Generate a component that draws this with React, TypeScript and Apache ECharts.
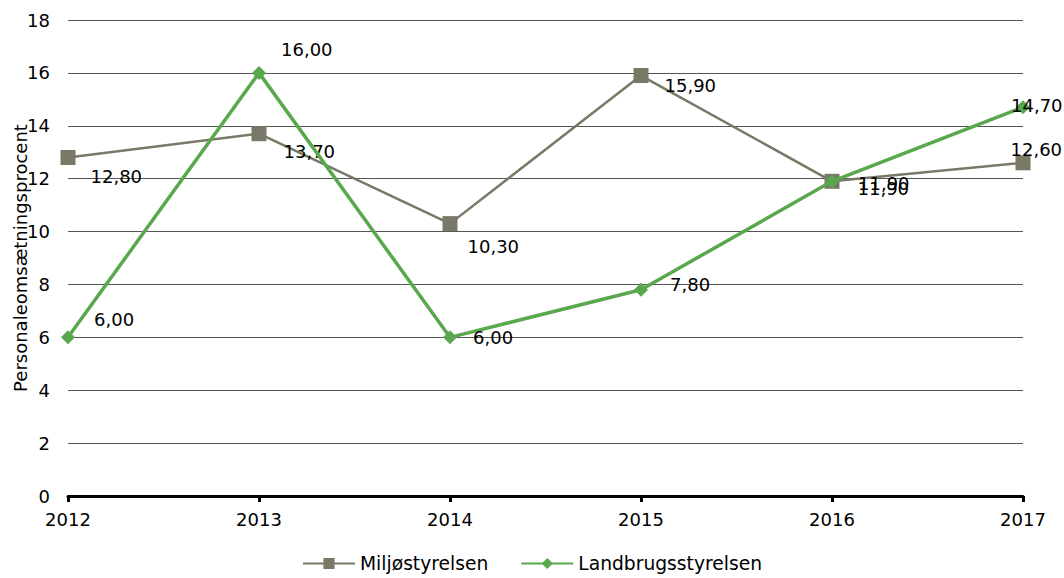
import React, { useEffect, useRef } from "react";
import * as echarts from "echarts";

const years = ["2012", "2013", "2014", "2015", "2016", "2017"];
const miljoValues = [12.8, 13.7, 10.3, 15.9, 11.9, 12.6];
const landbrugValues = [6.0, 16.0, 6.0, 7.8, 11.9, 14.7];
const yTicks = [0, 2, 4, 6, 8, 10, 12, 14, 16, 18];

const miljoLabelOffsets = [
  [10, 19],
  [12, 18],
  [5, 23],
  [11, 10],
  [13, 7],
  [-25, -13],
];
const landbrugLabelOffsets = [
  [14, -18],
  [10, -23],
  [11, 0],
  [17, -5],
  [14, 2],
  [-24, -2],
];

const FONT = "Verdana, 'DejaVu Sans', sans-serif";
const FS = 18;
const fmt = (v: number) => v.toFixed(2).replace(".", ",");

export default function App() {
  const ref = useRef<HTMLDivElement>(null);
  useEffect(() => {
    document.body.style.margin = "0";
    const chart = echarts.init(ref.current!, undefined, { renderer: "svg" });
    const mkData = (vals: number[], offs: number[][]) =>
      vals.map((v, i) => ({
        value: v,
        label: { offset: offs[i] },
      }));
    const labelBase = {
      show: true,
      position: "right" as const,
      fontFamily: FONT,
      fontSize: FS,
      color: "#000",
      formatter: (p: any) => fmt(p.value),
    };
    chart.setOption({
      animation: false,
      textStyle: { fontFamily: FONT },
      grid: {
        left: 68,
        right: 41,
        top: 20,
        bottom: 82,
        containLabel: false,
        outerBoundsMode: "none",
      },
      legend: {
        bottom: 0,
        left: "center",
        itemWidth: 52,
        itemHeight: 14,
        itemGap: 32,
        textStyle: { fontFamily: FONT, fontSize: 18.7, color: "#000" },
        data: ["Miljøstyrelsen", "Landbrugsstyrelsen"],
      },
      xAxis: {
        type: "category",
        data: years,
        boundaryGap: false,
        axisLine: { show: true, lineStyle: { color: "#000", width: 3 } },
        axisTick: { show: true, length: 6, lineStyle: { color: "#000", width: 3 } },
        axisLabel: { fontFamily: FONT, fontSize: FS, color: "#000", margin: 14 },
        splitLine: { show: false },
      },
      yAxis: {
        type: "value",
        min: yTicks[0],
        max: yTicks[yTicks.length - 1],
        interval: 2,
        name: "Personaleomsætningsprocent",
        nameLocation: "middle",
        nameGap: 39,
        nameMoveOverlap: false,
        nameTextStyle: { fontFamily: FONT, fontSize: FS, color: "#000" },
        axisLine: { show: false },
        axisTick: { show: false },
        axisLabel: { fontFamily: FONT, fontSize: FS, color: "#000", margin: 18 },
        splitLine: { show: true, lineStyle: { color: "#555", width: 1 } },
      },
      series: [
        {
          name: "Miljøstyrelsen",
          type: "line",
          data: mkData(miljoValues, miljoLabelOffsets),
          symbol: "rect",
          symbolSize: 15,
          itemStyle: { color: "#7a7866" },
          lineStyle: { color: "#7a7866", width: 2.5 },
          label: labelBase,
          z: 2,
        },
        {
          name: "Landbrugsstyrelsen",
          type: "line",
          data: mkData(landbrugValues, landbrugLabelOffsets),
          symbol: "diamond",
          symbolSize: 14,
          itemStyle: { color: "#5aa84d" },
          lineStyle: { color: "#5aa84d", width: 3.5 },
          label: labelBase,
          z: 3,
        },
      ],
    });
    return () => chart.dispose();
  }, []);
  return <div ref={ref} style={{ width: 1064, height: 578 }} />;
}
